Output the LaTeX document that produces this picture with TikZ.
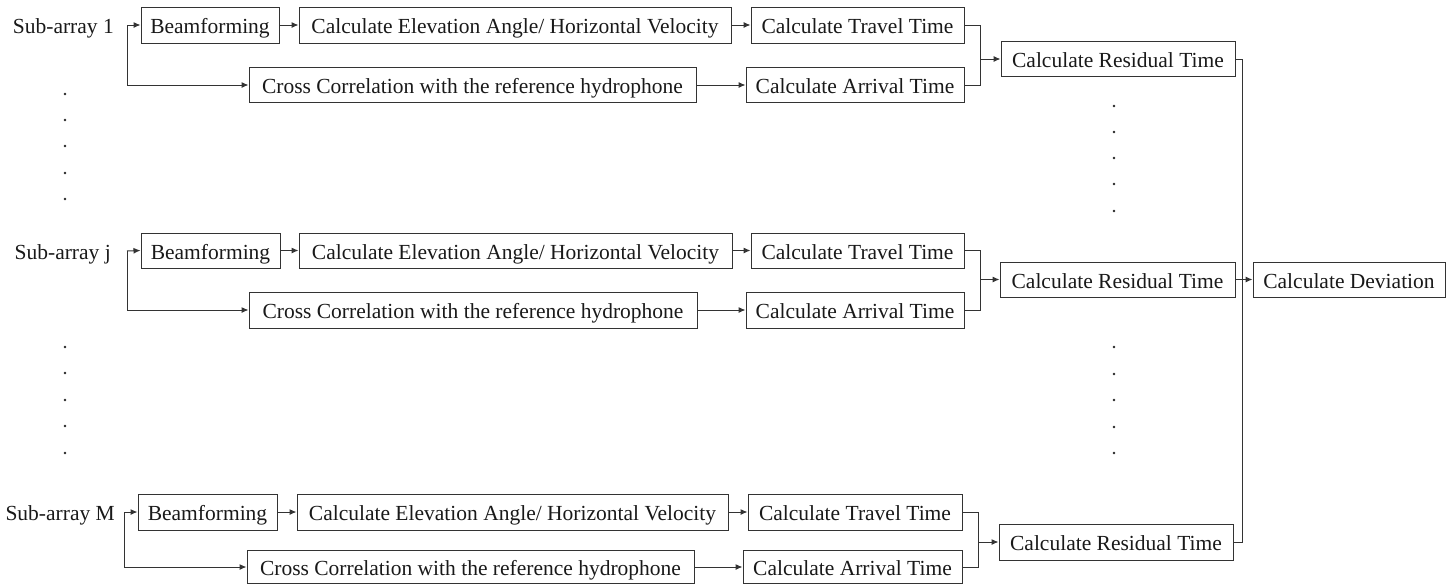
\documentclass[tikz,border=0pt]{standalone}
\usepackage{fontspec}
\setmainfont{Liberation Serif}
\usetikzlibrary{arrows.meta}
\begin{document}
\begin{tikzpicture}[x=1pt,y=-1pt,
  box/.style={draw=black!80, line width=1pt, inner sep=0pt, minimum height=35pt, text=black!90, text height=21pt, text depth=4pt, font=\fontsize{21.5}{24}\selectfont},
  lbl/.style={inner sep=0pt, anchor=east, text=black!90, text height=21pt, text depth=4pt, font=\fontsize{21.5}{24}\selectfont},
  conn/.style={draw=black!80, line width=1pt},
  arr/.style={conn, -{Latex[length=7pt,width=6pt]}},
  dot/.style={fill=black!85}]
\useasboundingbox (0,0) rectangle (1453,584);

% ---------- Row 1 ----------
\node[lbl] (sub1) at (114,25) {Sub-array 1};
\node[box, minimum width=138pt, minimum height=36pt] (beam1) at (210,25) {Beamforming};
\node[box, minimum width=432pt, minimum height=36pt] (elev1) at (515,25) {Calculate Elevation Angle/ Horizontal Velocity};
\node[box, minimum width=213pt, minimum height=36pt] (trav1) at (857.5,25) {Calculate Travel Time};
\node[box, minimum width=447pt] (cross1) at (472.5,85) {Cross Correlation with the reference hydrophone};
\node[box, minimum width=218pt] (arr1) at (855,85) {Calculate Arrival Time};
\node[box, minimum width=234pt] (res1) at (1118,59) {Calculate Residual Time};
\coordinate (s1) at (127,25);
\coordinate (j1) at (980,59);
\draw[arr] (s1) -- (beam1.west);
\draw[arr] (s1) |- (cross1.west);
\draw[arr] (beam1.east) -- (elev1.west);
\draw[arr] (elev1.east) -- (trav1.west);
\draw[arr] (cross1.east) -- (arr1.west);
\draw[conn] (trav1.east) -| (j1) |- (arr1.east);
\draw[arr] (j1) -- (res1.west);

% ---------- Row j ----------
\node[lbl] (subj) at (111,251) {Sub-array j};
\node[box, minimum width=139pt] (beamj) at (210.5,250.5) {Beamforming};
\node[box, minimum width=433pt] (elevj) at (515.5,250.5) {Calculate Elevation Angle/ Horizontal Velocity};
\node[box, minimum width=213pt] (travj) at (857.5,250.5) {Calculate Travel Time};
\node[box, minimum width=448pt, minimum height=36pt] (crossj) at (473,310) {Cross Correlation with the reference hydrophone};
\node[box, minimum width=218pt, minimum height=36pt] (arrj) at (855,310) {Calculate Arrival Time};
\node[box, minimum width=235pt] (resj) at (1117.5,279.5) {Calculate Residual Time};
\node[box, minimum width=192pt] (dev) at (1349,279.5) {Calculate Deviation};
\coordinate (sj) at (127,251);
\coordinate (jj) at (980,279.5);
\draw[arr] (sj) -- (beamj.west);
\draw[arr] (sj) |- (crossj.west);
\draw[arr] (beamj.east) -- (elevj.west);
\draw[arr] (elevj.east) -- (travj.west);
\draw[arr] (crossj.east) -- (arrj.west);
\draw[conn] (travj.east) -| (jj) |- (arrj.east);
\draw[arr] (jj) -- (resj.west);
\draw[arr] (resj.east) -- (dev.west);

% ---------- Row M ----------
\node[lbl] (subM) at (115,512) {Sub-array M};
\node[box, minimum width=139pt, minimum height=36pt] (beamM) at (207.5,512) {Beamforming};
\node[box, minimum width=431pt, minimum height=36pt] (elevM) at (512.5,512) {Calculate Elevation Angle/ Horizontal Velocity};
\node[box, minimum width=214pt, minimum height=36pt] (travM) at (855,512) {Calculate Travel Time};
\node[box, minimum width=447pt, minimum height=33pt] (crossM) at (470.5,567) {Cross Correlation with the reference hydrophone};
\node[box, minimum width=219pt, minimum height=33pt] (arrM) at (852.5,567) {Calculate Arrival Time};
\node[box, minimum width=234pt, minimum height=36pt] (resM) at (1116,542) {Calculate Residual Time};
\coordinate (sM) at (124,512);
\coordinate (jM) at (978,542);
\draw[arr] (sM) -- (beamM.west);
\draw[arr] (sM) |- (crossM.west);
\draw[arr] (beamM.east) -- (elevM.west);
\draw[arr] (elevM.east) -- (travM.west);
\draw[arr] (crossM.east) -- (arrM.west);
\draw[conn] (travM.east) -| (jM) |- (arrM.east);
\draw[arr] (jM) -- (resM.west);

% ---------- collector line ----------
\coordinate (v1) at (1242,59);
\coordinate (vM) at (1242,542);
\draw[conn] (res1.east) -- (v1) -- (vM) -- (resM.east);

% ---------- dots ----------
\foreach \y in {94,120,146,173,199,347,373,400,426,453}
  \fill[dot] (65,\y) circle (1.3pt);
\foreach \y in {106,132,158,184,211,347,374,400,427,453}
  \fill[dot] (1114,\y) circle (1.3pt);
\end{tikzpicture}
\end{document}
